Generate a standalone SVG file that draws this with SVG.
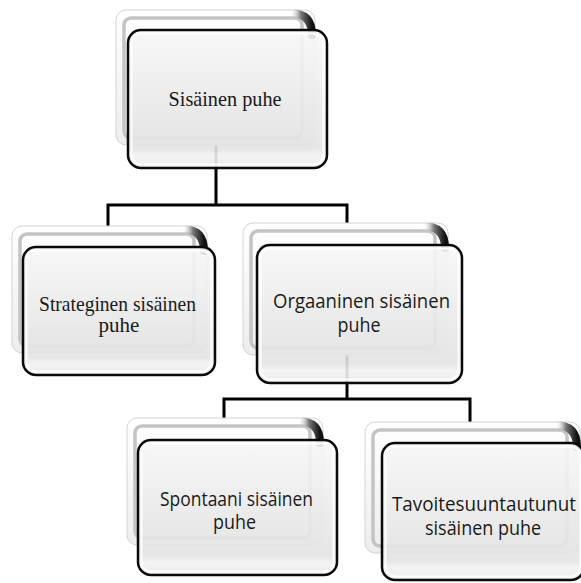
<svg xmlns="http://www.w3.org/2000/svg" width="581" height="583" viewBox="0 0 581 583">
<defs>
<linearGradient id="backGrad" x1="0" y1="0" x2="0" y2="1">
<stop offset="0" stop-color="#ffffff"/>
<stop offset="1" stop-color="#ededed"/>
</linearGradient>
<linearGradient id="frontGrad" x1="0" y1="0" x2="0" y2="1">
<stop offset="0" stop-color="#f7f7f7"/>
<stop offset="0.5" stop-color="#ebebeb"/>
<stop offset="0.86" stop-color="#e3e3e3"/>
<stop offset="0.91" stop-color="#f2f2f2"/>
<stop offset="1" stop-color="#e8e8e8"/>
</linearGradient>
<linearGradient id="cornerGrad" x1="0" y1="0" x2="1" y2="0">
<stop offset="0" stop-color="#ffffff" stop-opacity="0"/>
<stop offset="0.5" stop-color="#777777"/>
<stop offset="1" stop-color="#111111"/>
</linearGradient>
</defs>
<style>
.back{fill:url(#backGrad);stroke:#d4d4d4;stroke-width:1}
.groove{fill:none;stroke:#c4c4c4;stroke-width:3.5}
.corner{fill:none;stroke:url(#cornerGrad);stroke-width:8;stroke-linecap:round}
.front{fill:url(#frontGrad);fill-opacity:0.9;stroke:#0a0a0a;stroke-width:2.5}
.hl{fill:none;stroke:#ffffff;stroke-width:2;stroke-opacity:0.95}
.conn{fill:none;stroke:#000000;stroke-width:3}
.serif{font-family:"Liberation Serif","Times New Roman",serif;font-size:21px;fill:#1a1a1a;text-anchor:middle}
.sans{font-family:"Open Sans","Noto Sans","Liberation Sans",sans-serif;font-size:19.5px;fill:#1a1a1a;text-anchor:middle}
</style>
<g id="connectors">
<path class="conn" d="M216 145 V205 M108 226 V205 H347 V223"/>
<path class="conn" d="M347 355 V399 M224 418 V399 H470 V422"/>
</g>
<g id="node-sisainen-puhe">
<rect class="back" x="116" y="10" width="199" height="135" rx="10"/>
<rect class="groove" x="124" y="18" width="178" height="120" rx="7"/>
<path class="corner" d="M290 13 Q312 13 312 35"/>
<rect class="front" x="128" y="30" width="199" height="138" rx="13"/>
<rect class="hl" x="131.5" y="33.5" width="192" height="131" rx="10"/>
<text class="serif" x="225" y="106" textLength="113" lengthAdjust="spacingAndGlyphs">Sisäinen puhe</text>
</g>
<g id="node-strateginen">
<rect class="back" x="12" y="226" width="195" height="127" rx="10"/>
<rect class="groove" x="20" y="234" width="174" height="112" rx="7"/>
<path class="corner" d="M182 229 Q204 229 204 251"/>
<rect class="front" x="23" y="247" width="192" height="128" rx="13"/>
<rect class="hl" x="26.5" y="250.5" width="185" height="121" rx="10"/>
<text class="serif" x="117.5" y="311" textLength="157" lengthAdjust="spacingAndGlyphs">Strateginen sisäinen</text>
<text class="serif" x="119" y="332">puhe</text>
</g>
<g id="node-orgaaninen">
<rect class="back" x="243" y="223" width="205" height="132" rx="10"/>
<rect class="groove" x="251" y="231" width="184" height="117" rx="7"/>
<path class="corner" d="M423 226 Q445 226 445 248"/>
<rect class="front" x="257" y="245" width="205" height="138" rx="13"/>
<rect class="hl" x="260.5" y="248.5" width="198" height="131" rx="10"/>
<text class="sans" x="361.5" y="308" textLength="177" lengthAdjust="spacingAndGlyphs">Orgaaninen sisäinen</text>
<text class="sans" x="359" y="332" textLength="43" lengthAdjust="spacingAndGlyphs">puhe</text>
</g>
<g id="node-spontaani">
<rect class="back" x="127" y="418" width="196" height="127" rx="10"/>
<rect class="groove" x="135" y="426" width="175" height="112" rx="7"/>
<path class="corner" d="M298 421 Q320 421 320 443"/>
<rect class="front" x="138" y="440" width="199" height="135" rx="13"/>
<rect class="hl" x="141.5" y="443.5" width="192" height="128" rx="10"/>
<text class="sans" x="236.5" y="506" textLength="153" lengthAdjust="spacingAndGlyphs">Spontaani sisäinen</text>
<text class="sans" x="234.5" y="529" textLength="43" lengthAdjust="spacingAndGlyphs">puhe</text>
</g>
<g id="node-tavoitesuuntautunut">
<rect class="back" x="365" y="422" width="215" height="131" rx="10"/>
<rect class="groove" x="373" y="430" width="194" height="116" rx="7"/>
<path class="corner" d="M555 425 Q577 425 577 447"/>
<rect class="front" x="382" y="443" width="202" height="137" rx="13"/>
<rect class="hl" x="385.5" y="446.5" width="195" height="130" rx="10"/>
<text class="sans" x="484" y="511" textLength="184" lengthAdjust="spacingAndGlyphs">Tavoitesuuntautunut</text>
<text class="sans" x="483" y="535" textLength="116" lengthAdjust="spacingAndGlyphs">sisäinen puhe</text>
</g>
</svg>
